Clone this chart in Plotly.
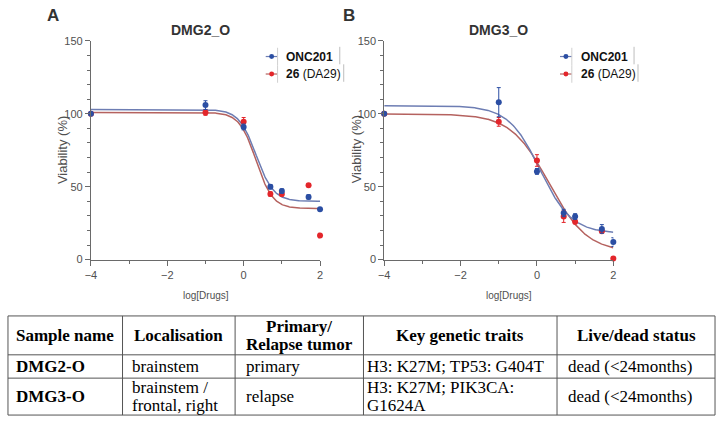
import numpy as np
import plotly.graph_objects as go

W, H = 720, 423

# ---------------- data ----------------
log_dose = [-4, -1, 0, 0.7, 1, 1.7, 2]

A_onc = [100, 106, 91, 50, 47, 43, 34.5]
A_onc_err = [1, 3, 2, 1.5, 1.5, 1.5, 1]
A_26 = [100, 101, 94.5, 45, 45, 51, 16.5]
A_26_err = [1, 2, 3, 1.5, 1.5, 1, 1.5]

B_onc = [100, 108, 60.5, 32, 29.5, 21, 12]
B_onc_err = [1, 10, 2, 2.5, 2, 3, 3]
B_26 = [100, 94.5, 68, 29.5, 26, 19.5, 0.7]
B_26_err = [1, 3, 4, 4, 1.5, 1, 1]

# 4PL fit parameters: bottom, top, logIC50, hill
fit_A_onc = [40, 103, 0.33, 1.93]
fit_A_26 = [35, 101, 0.325, 2.0]
fit_B_onc = [18, 105.5, 0.081, 1.05]
fit_B_26 = [5, 100, 0.315, 0.87]

series_names = ["<b>ONC201</b>", "<b>26</b> (DA29)"]
panel_titles = ["DMG2_O", "DMG3_O"]
panel_letters = ["A", "B"]

table_header = ["Sample name", "Localisation", "Primary/\nRelapse tumor",
                "Key genetic traits", "Live/dead status"]
table_rows = [
    ["DMG2-O", "brainstem", "primary", "H3: K27M; TP53: G404T", "dead (&lt;24months)"],
    ["DMG3-O", "brainstem /\nfrontal, right", "relapse", "H3: K27M; PIK3CA:\nG1624A",
     "dead (&lt;24months)"],
]

# ---------------- styles ----------------
BLUE_M, RED_M = "#2b4ea3", "#e3262b"
BLUE_L, RED_L = "#6d7db3", "#b5625f"
AX = "#6a6a6a"
TXT = "#505050"
NARROW = "Liberation Sans Narrow, Arial Narrow, Arial"
SANS = "Liberation Sans, Arial"
SERIF = "Liberation Serif, Times New Roman"


def px(x):
    return x / W


def py(y):
    return 1 - y / H


def logistic(x, p):
    b, t, ic, h = p
    return b + (t - b) / (1 + 10 ** ((x - ic) * h))


def ann(x, y, text, font, xanchor="center", **kw):
    return dict(x=px(x), y=py(y), xref="paper", yref="paper", text=text,
                showarrow=False, xanchor=xanchor, yanchor="middle", font=font, **kw)


fig = go.Figure()

panels = [
    dict(x0=86, x1=318, data=[(A_26, A_26_err, RED_M), (A_onc, A_onc_err, BLUE_M)],
         fits=[(fit_A_26, RED_L), (fit_A_onc, BLUE_L)], title_x=197, letter_x=48,
         xtitle_x=203, leg_x=269),
    dict(x0=383, x1=615, data=[(B_26, B_26_err, RED_M), (B_onc, B_onc_err, BLUE_M)],
         fits=[(fit_B_26, RED_L), (fit_B_onc, BLUE_L)], title_x=499, letter_x=347,
         xtitle_x=509, leg_x=567),
]

y_top, y_bot = 36, 261
xgrid = np.linspace(-4, 2, 400)

annotations = []
shapes = []

for i, pn in enumerate(panels):
    xa = "x" if i == 0 else "x2"
    ya = "y" if i == 0 else "y2"
    for p, col in pn["fits"]:
        fig.add_trace(go.Scatter(x=xgrid, y=logistic(xgrid, p), mode="lines",
                                 line=dict(color=col, width=1.5), xaxis=xa, yaxis=ya,
                                 showlegend=False, hoverinfo="skip", cliponaxis=False))
    for vals, errs, col in pn["data"]:
        fig.add_trace(go.Scatter(x=log_dose, y=vals, mode="markers",
                                 marker=dict(color=col, size=6),
                                 error_y=dict(type="data", array=errs, color=col,
                                              thickness=1, width=2),
                                 xaxis=xa, yaxis=ya, showlegend=False, cliponaxis=False))
    axis_common = dict(showline=True, linecolor=AX, linewidth=1, ticks="outside",
                       tickcolor=AX, ticklen=5, tickwidth=1, showgrid=False,
                       zeroline=False, tickfont=dict(family=NARROW, size=11, color=TXT))
    fig.update_layout({
        ("xaxis" if i == 0 else "xaxis2"): dict(
            domain=[px(pn["x0"]), px(pn["x1"])], range=[-4, 2], tick0=-4, dtick=2,
            anchor=ya,
            minor=dict(ticks="outside", ticklen=3, tickwidth=1, tick0=-4, dtick=1,
                       tickcolor=AX, showgrid=False),
            **axis_common),
        ("yaxis" if i == 0 else "yaxis2"): dict(
            domain=[py(y_bot), py(y_top)], range=[0, 150], tick0=0, dtick=50,
            anchor=xa,
            minor=dict(ticks="outside", ticklen=3, tickwidth=1, tick0=0, dtick=10,
                       tickcolor=AX, showgrid=False),
            **axis_common),
    })
    # titles
    annotations.append(ann(pn["title_x"], 25, f"<b>{panel_titles[i]}</b>",
                           dict(family=NARROW, size=14, color="#333")))
    annotations.append(ann(pn["letter_x"], 10, f"<b>{panel_letters[i]}</b>",
                           dict(family=SANS, size=17, color="#333")))
    annotations.append(ann(pn["x0"] - 28, 148, "Viability (%)",
                           dict(family=SANS, size=13, color=TXT), textangle=-90))
    annotations.append(ann(pn["xtitle_x"], 298, "log[Drugs]",
                           dict(family=SANS, size=10, color=TXT)))
    # legend
    for j, (name, col, lcol) in enumerate(zip(series_names, [BLUE_M, RED_M], [BLUE_L, RED_L])):
        yy = 52 + 18 * j
        lx = pn["leg_x"]
        shapes.append(dict(type="line", xref="paper", yref="paper", x0=px(lx - 6), x1=px(lx + 6),
                           y0=py(yy), y1=py(yy), line=dict(color=lcol, width=1.2)))
        shapes.append(dict(type="circle", xref="paper", yref="paper", x0=px(lx - 2.5),
                           x1=px(lx + 2.5), y0=py(yy + 2.5), y1=py(yy - 2.5),
                           fillcolor=col, line=dict(color=col, width=0)))
        annotations.append(ann(lx + 13, yy, name, dict(family=SANS, size=12, color="#111"),
                               xanchor="left"))
        # faint box edges (GraphPad legend artefacts)
        shapes.append(dict(type="line", xref="paper", yref="paper", x0=px(lx + 6),
                           x1=px(lx + 6), y0=py(yy - 9), y1=py(yy + 9),
                           line=dict(color="#d0d0d0", width=1)))
        rx = lx + 69 + 4 * j
        shapes.append(dict(type="line", xref="paper", yref="paper", x0=px(rx), x1=px(rx),
                           y0=py(yy - 10), y1=py(yy + 8), line=dict(color="#bdbdbd", width=1)))

# ---------------- table ----------------
col_edges = [2, 118, 232, 362, 558, 718]
row_edges = [319, 359, 383, 421]
pads = [6, 8, 9, 2, 9]
LINE_H = 19
for yv in row_edges:
    shapes.append(dict(type="line", xref="paper", yref="paper", x0=px(col_edges[0]),
                       x1=px(col_edges[-1]), y0=py(yv), y1=py(yv),
                       line=dict(color="#555", width=1)))
for xv in col_edges:
    shapes.append(dict(type="line", xref="paper", yref="paper", x0=px(xv), x1=px(xv),
                       y0=py(row_edges[0]), y1=py(row_edges[-1]),
                       line=dict(color="#555", width=1)))


def cell_text(txt, r, c, header=False, bold=False):
    yc = (row_edges[r] + row_edges[r + 1]) / 2
    lines = txt.split("\n")
    n = len(lines)
    for k, ln in enumerate(lines):
        yy = yc + (k - (n - 1) / 2) * LINE_H
        if header:
            x = (col_edges[c] + col_edges[c + 1]) / 2
            xanchor = "center"
        else:
            x = col_edges[c] + pads[c]
            xanchor = "left"
        t = f"<b>{ln}</b>" if (header or bold) else ln
        annotations.append(ann(x, yy, t, dict(family=SERIF, size=17, color="#000"),
                               xanchor=xanchor))


for c, h in enumerate(table_header):
    cell_text(h, 0, c, header=True)
for r, row in enumerate(table_rows):
    for c, v in enumerate(row):
        cell_text(v, r + 1, c, bold=(c == 0))

fig.update_layout(width=W, height=H, margin=dict(l=0, r=0, t=0, b=0),
                  paper_bgcolor="white", plot_bgcolor="white",
                  annotations=annotations, shapes=shapes, showlegend=False)

fig.write_html("out.html")
